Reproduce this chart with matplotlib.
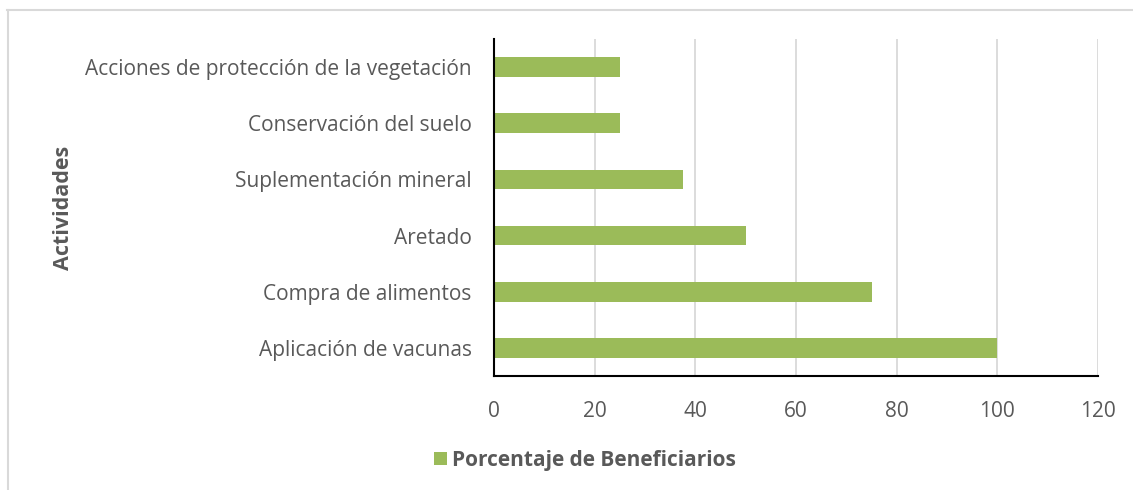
import matplotlib
matplotlib.use("Agg")
import matplotlib.pyplot as plt
from matplotlib.lines import Line2D
from matplotlib.patches import Patch

actividades = ["Aplicación de vacunas", "Compra de alimentos", "Aretado",
               "Suplementación mineral", "Conservación del suelo",
               "Acciones de protección de la vegetación"]
porcentaje = [100, 75, 50, 37.5, 25, 25]
xticks = [0, 20, 40, 60, 80, 100, 120]

plt.rcParams['font.family'] = ['Open Sans', 'DejaVu Sans']
txt = '#595959'
green = '#9BBB59'

fig = plt.figure(figsize=(11.33, 4.9), dpi=100)
ax = fig.add_axes([494/1133, 1 - 376/490, (1098 - 494)/1133, (376 - 39)/490])

ax.barh(range(len(actividades)), porcentaje, height=0.35, color=green, zorder=3)
ax.set_xlim(0, 120)
ax.set_ylim(-0.5, len(actividades) - 0.5)
ax.set_xticks(xticks)
ax.set_yticks(range(len(actividades)))
ax.set_yticklabels(actividades)
ax.tick_params(axis='both', length=0, labelsize=15, colors=txt)
ax.tick_params(axis='x', pad=18)
ax.tick_params(axis='y', pad=16)
ax.grid(axis='x', color='#d9d9d9', linewidth=1.3, zorder=0)
for s in ['top', 'right']:
    ax.spines[s].set_visible(False)
for s in ['left', 'bottom']:
    ax.spines[s].set_color('black')
    ax.spines[s].set_linewidth(1.5)
    ax.spines[s].set_zorder(4)

ax.set_ylabel("Actividades", fontsize=15.5, fontweight='bold', color=txt)
ax.yaxis.set_label_coords(-0.695, 0.5)

handle = Patch(facecolor=green, edgecolor='none')
fig.legend([handle], ["Porcentaje de Beneficiarios"], loc='center',
           bbox_to_anchor=(585/1133, 1 - 460/490), frameon=False,
           prop={'weight': 'bold', 'size': 15}, labelcolor=txt,
           handlelength=0.6, handleheight=0.6, handletextpad=0.25)

# outer chart border (top and left only visible in crop)
fig.add_artist(Line2D([7/1133, 1], [1 - 10/490, 1 - 10/490], transform=fig.transFigure,
                      color='#d9d9d9', linewidth=1.5))
fig.add_artist(Line2D([8/1133, 8/1133], [0, 1 - 10/490], transform=fig.transFigure,
                      color='#d9d9d9', linewidth=1.5))

fig.savefig("out.png", dpi=100)
